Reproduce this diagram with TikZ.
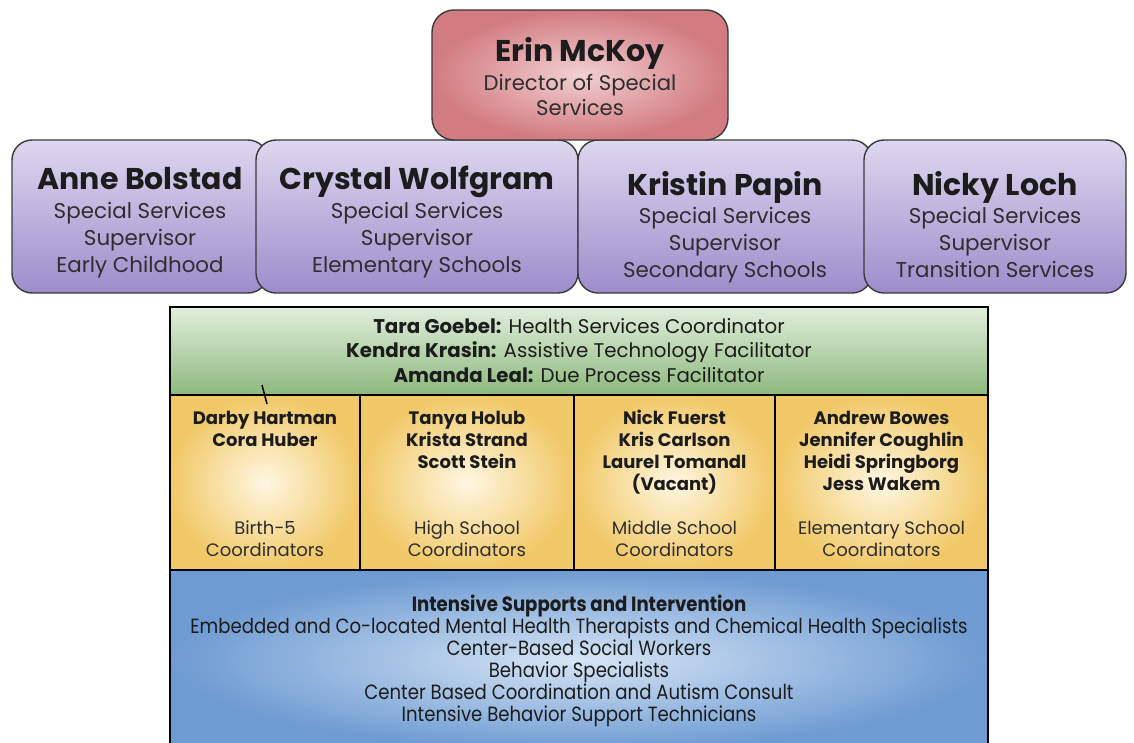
\documentclass[tikz,border=0pt]{standalone}
\usepackage{fontspec}
\setmainfont{Poppins}
\newfontfamily\narrowfont[FakeStretch=0.88]{Poppins}
\usetikzlibrary{positioning}
\definecolor{inkdark}{HTML}{1C1C1C}
\definecolor{inksoft}{HTML}{2E2E2E}
\definecolor{boxline}{HTML}{3A3A3A}
\definecolor{rosein}{HTML}{F2D0D3}
\definecolor{roseout}{HTML}{D27B80}
\definecolor{lilactop}{HTML}{DDD7EF}
\definecolor{lilacbot}{HTML}{9C8DCB}
\definecolor{sagetop}{HTML}{E1EEDC}
\definecolor{sagebot}{HTML}{8DB97D}
\definecolor{sunin}{HTML}{FFF7E2}
\definecolor{sunout}{HTML}{F1C867}
\definecolor{skyin}{HTML}{D6E5F5}
\definecolor{skyout}{HTML}{6E9BD2}
\tikzset{
  % leitung
  boss/.style={rounded corners=22pt,draw=boxline,line width=1.4pt,
               inner color=rosein,outer color=roseout,
               minimum width=296,minimum height=130},
  sup/.style={rounded corners=20pt,draw=boxline,line width=1.4pt,
              top color=lilactop,bottom color=lilacbot,minimum height=153},
  bosstxt/.style={anchor=base,align=center,text=inksoft,
                  font=\fontsize{21.2}{25.5}\selectfont},
  suptxt/.style={anchor=base,align=center,text=inksoft,
                 font=\fontsize{21.4}{27}\selectfont},
  % teams
  cell/.style={draw=black,line width=2pt,inner sep=0pt},
  staff/.style={cell,top color=sagetop,bottom color=sagebot},
  coord/.style={cell,inner color=sunin,outer color=sunout,minimum height=175},
  support/.style={cell,inner color=skyin,outer color=skyout},
  stafftxt/.style={anchor=base,align=center,text=inkdark,
                   font=\fontsize{19.8}{24.5}\selectfont},
  nametxt/.style={anchor=base,align=center,text=inkdark,
                  font=\fontsize{18}{22}\selectfont\bfseries},
  roletxt/.style={anchor=base,align=center,text=inksoft,
                  font=\fontsize{18}{22}\selectfont},
  supporttxt/.style={anchor=base,align=center,text=inkdark,
                     font=\narrowfont\fontsize{20.6}{22}\selectfont},
}
\newcommand{\bossname}{\fontsize{30}{34}\selectfont\bfseries\color{inkdark}}
\newcommand{\supname}{\fontsize{30}{30}\selectfont\bfseries\color{inkdark}}

\begin{document}
\begin{tikzpicture}[x=1pt,y=-1pt]
  \clip (0,0) rectangle (1134,743);
  \fill[white] (0,0) rectangle (1134,743);
  % supervisors
  \node[sup,minimum width=256] (anne) at (140,216.5) {};
  \node[sup,minimum width=322] (crystal) at (417,216.5) {};
  \node[sup,minimum width=294] (kristin) at (725,216.5) {};
  \node[sup,minimum width=262] (nicky) at (995,216.5) {};
  \node[boss] (erin) at (580,75) {};
  \node[bosstxt] (erintxt) at (580,116) {{\bossname Erin McKoy}\\[3pt]Director of Special\\Services};
  \node[suptxt] (annetxt) at (140,272) {{\supname Anne Bolstad}\\[1pt]Special Services\\Supervisor\\Early Childhood};
  \node[suptxt] (crystaltxt) at (417,272) {{\supname Crystal Wolfgram}\\[1pt]Special Services\\Supervisor\\Elementary Schools};
  \node[suptxt] (kristintxt) at (725,277) {{\supname Kristin Papin}\\[1pt]Special Services\\Supervisor\\Secondary Schools};
  \node[suptxt] (nickytxt) at (995,277) {{\supname Nicky Loch}\\[1pt]Special Services\\Supervisor\\Transition Services};
  % district staff
  \node[staff,minimum width=818,minimum height=88] (staffbox) at (579,351) {};
  \node[stafftxt] (stafflist) at (579,382) {\textbf{Tara Goebel:} Health Services Coordinator\\
    \textbf{Kendra Krasin:} Assistive Technology Facilitator\\
    \textbf{Amanda Leal:} Due Process Facilitator};
  % coordinators
  \node[coord,minimum width=190] (birth) at (265,482.5) {};
  \node[coord,minimum width=214] (high) at (467,482.5) {};
  \node[coord,minimum width=201] (middle) at (674.5,482.5) {};
  \node[coord,minimum width=213] (elem) at (881.5,482.5) {};
  \node[nametxt] (birthnames) at (265,446) {Darby Hartman\\Cora Huber};
  \node[nametxt] (highnames) at (467,468) {Tanya Holub\\Krista Strand\\Scott Stein};
  \node[nametxt] (middlenames) at (674.5,490) {Nick Fuerst\\Kris Carlson\\Laurel Tomandl\\(Vacant)};
  \node[nametxt] (elemnames) at (881.5,490) {Andrew Bowes\\Jennifer Coughlin\\Heidi Springborg\\Jess Wakem};
  \node[roletxt] (birthrole) at (265,556) {Birth-5\\Coordinators};
  \node[roletxt] (highrole) at (467,556) {High School\\Coordinators};
  \node[roletxt] (middlerole) at (674.5,556) {Middle School\\Coordinators};
  \node[roletxt] (elemrole) at (881.5,556) {Elementary School\\Coordinators};
  \coordinate (tickA) at (262,385);
  \coordinate (tickB) at (267,404);
  \draw[line width=1.5pt] (tickA) -- (tickB);
  % intensive supports
  \node[support,minimum width=818,minimum height=180] (intensive) at (579,660) {};
  \node[supporttxt] (intensivetxt) at (579,721) {\textbf{Intensive Supports and Intervention}\\
    Embedded and Co-located Mental Health Therapists and Chemical Health Specialists\\
    Center-Based Social Workers\\
    Behavior Specialists\\
    Center Based Coordination and Autism Consult\\
    Intensive Behavior Support Technicians};
\end{tikzpicture}
\end{document}
